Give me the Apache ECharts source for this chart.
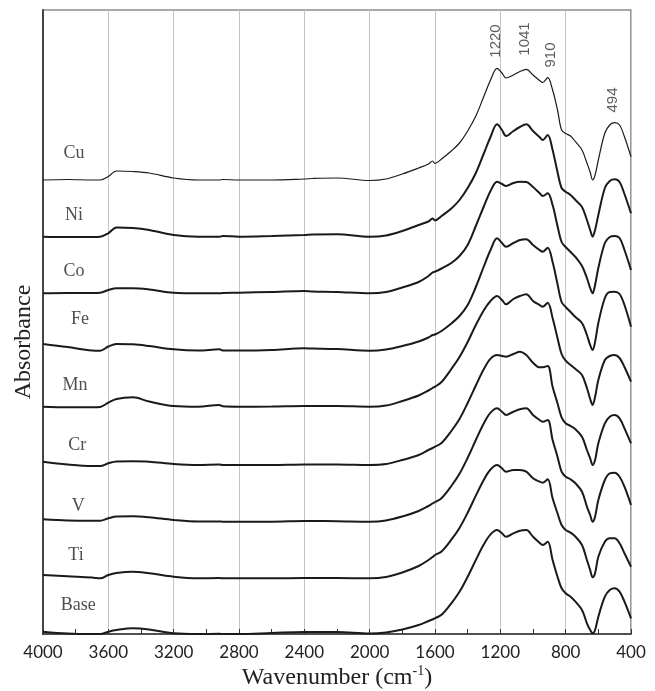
<!DOCTYPE html>
<html>
<head>
<meta charset="utf-8">
<script src="https://cdn.jsdelivr.net/npm/echarts@6/dist/echarts.min.js"></script>
<style>html,body{margin:0;padding:0;background:#fff}#c{width:655px;height:691px}</style>
</head>
<body>
<div id="c"></div>
<script>
const wavenumbers = [4000,3850,3700,3650,3600,3550,3450,3350,3200,3050,2920,2900,2800,2600,2400,2350,2200,2000,1900,1800,1700,1640,1615,1600,1560,1500,1450,1400,1350,1300,1260,1220,1190,1165,1120,1080,1041,1000,960,940,910,880,850,825,800,770,740,700,670,650,635,620,600,560,530,500,470,440,400];
const xTicks = [4000,3600,3200,2800,2400,2000,1600,1200,800,400];
const seriesNames = ['Cu','Ni','Co','Fe','Mn','Cr','V','Ti','Base'];
const cu = [4.54,4.545,4.54,4.54,4.575,4.63,4.625,4.61,4.56,4.54,4.54,4.545,4.54,4.54,4.55,4.555,4.56,4.535,4.55,4.60,4.66,4.70,4.73,4.705,4.75,4.83,4.91,5.03,5.18,5.38,5.54,5.657,5.61,5.56,5.59,5.625,5.647,5.59,5.535,5.515,5.563,5.44,5.24,5.04,5.005,4.98,4.923,4.84,4.71,4.62,4.54,4.59,4.74,5.01,5.09,5.113,5.09,4.973,4.773];
const ni = [3.973,3.97,3.97,3.973,4.007,4.065,4.06,4.04,3.99,3.973,3.973,3.98,3.973,3.98,3.99,3.995,3.997,3.973,3.985,4.03,4.09,4.125,4.155,4.135,4.18,4.255,4.34,4.46,4.61,4.81,4.97,5.097,5.04,4.98,5.03,5.07,5.097,5.03,4.97,4.94,4.99,4.84,4.62,4.46,4.423,4.39,4.34,4.27,4.14,4.04,3.973,4.04,4.19,4.46,4.53,4.547,4.52,4.40,4.207];
const co = [3.407,3.41,3.41,3.413,3.44,3.457,3.457,3.445,3.413,3.407,3.407,3.41,3.413,3.42,3.43,3.425,3.42,3.407,3.42,3.465,3.52,3.58,3.615,3.623,3.655,3.71,3.78,3.89,4.08,4.28,4.43,4.523,4.50,4.48,4.51,4.523,4.52,4.47,4.41,4.38,4.407,4.29,4.08,3.92,3.87,3.82,3.77,3.68,3.56,3.46,3.407,3.49,3.66,3.91,3.97,3.98,3.96,3.84,3.64];
const fe = [2.90,2.87,2.835,2.833,2.875,2.90,2.897,2.88,2.847,2.835,2.847,2.835,2.835,2.84,2.857,2.855,2.85,2.833,2.845,2.88,2.925,2.965,2.99,2.995,3.03,3.105,3.18,3.29,3.47,3.68,3.84,3.957,3.91,3.873,3.91,3.94,3.947,3.89,3.84,3.823,3.863,3.72,3.50,3.32,3.27,3.22,3.17,3.11,2.99,2.89,2.84,2.92,3.11,3.36,3.42,3.423,3.40,3.29,3.073];
const mn = [2.273,2.267,2.267,2.27,2.313,2.35,2.367,2.325,2.28,2.273,2.29,2.277,2.273,2.275,2.28,2.28,2.28,2.273,2.285,2.33,2.385,2.435,2.46,2.473,2.52,2.65,2.77,2.92,3.09,3.24,3.33,3.38,3.34,3.297,3.35,3.38,3.397,3.33,3.29,3.273,3.313,3.16,2.96,2.80,2.733,2.69,2.65,2.59,2.46,2.35,2.29,2.37,2.54,2.74,2.78,2.79,2.76,2.67,2.523];
const cr = [1.723,1.695,1.68,1.68,1.707,1.725,1.727,1.723,1.70,1.69,1.695,1.69,1.69,1.69,1.695,1.695,1.695,1.69,1.70,1.74,1.79,1.84,1.86,1.873,1.91,2.03,2.15,2.31,2.485,2.652,2.754,2.79,2.78,2.773,2.80,2.823,2.79,2.713,2.667,2.667,2.68,2.473,2.307,2.167,2.107,2.08,2.047,1.973,1.84,1.757,1.69,1.74,1.907,2.107,2.173,2.19,2.157,2.057,1.907];
const v = [1.147,1.135,1.133,1.133,1.157,1.175,1.177,1.167,1.14,1.125,1.125,1.123,1.123,1.123,1.13,1.13,1.128,1.123,1.135,1.175,1.23,1.28,1.305,1.32,1.358,1.48,1.602,1.762,1.94,2.11,2.213,2.257,2.223,2.19,2.223,2.247,2.257,2.19,2.14,2.123,2.14,1.94,1.773,1.623,1.573,1.547,1.507,1.423,1.273,1.19,1.123,1.173,1.34,1.54,1.607,1.613,1.573,1.473,1.29];
const ti = [0.59,0.577,0.565,0.557,0.59,0.61,0.623,0.607,0.573,0.557,0.56,0.557,0.557,0.557,0.56,0.56,0.56,0.557,0.57,0.615,0.68,0.74,0.77,0.79,0.826,0.943,1.06,1.213,1.384,1.546,1.645,1.69,1.657,1.623,1.64,1.64,1.623,1.557,1.523,1.513,1.547,1.357,1.207,1.09,1.04,1.013,0.973,0.89,0.74,0.64,0.567,0.607,0.773,0.923,0.957,0.957,0.907,0.807,0.673];
const base = [0.023,0.005,0,0,0.023,0.04,0.057,0.045,0.007,0,0.002,0,0,0.01,0.02,0.02,0.02,0.005,0.015,0.045,0.09,0.13,0.145,0.157,0.192,0.307,0.422,0.572,0.74,0.899,0.996,1.04,1.007,0.973,1.007,1.033,1.04,0.973,0.913,0.89,0.923,0.74,0.573,0.457,0.407,0.373,0.323,0.24,0.107,0.04,0.007,0.04,0.173,0.373,0.44,0.457,0.423,0.323,0.157];
const peakLabels = ['1220','1041','910','494'];

// label anchor positions (wavenumber, absorbance)
const nameLabelAt = [[3810,4.807],[3810,4.19],[3810,3.623],[3773,3.15],[3804,2.483],[3790,1.89],[3784,1.273],[3798,0.79],[3784,0.29]];
const peakLabelAt = [[1227,5.93],[1049,5.95],[890,5.79],[510,5.34]];

const allSeries = [cu, ni, co, fe, mn, cr, v, ti, base];

const chart = echarts.init(document.getElementById('c'), null, {renderer:'canvas'});
const lineSeries = allSeries.map((arr, k) => ({
  name: seriesNames[k],
  type: 'line',
  data: wavenumbers.map((w, i) => [w, arr[i]]),
  showSymbol: false,
  smooth: 0.35,
  silent: true,
  lineStyle: { color: '#1a1a1a', width: k === 0 ? 1.2 : 2 },
  z: 3
}));

const option = {
  animation: false,
  backgroundColor: '#fff',
  grid: { left: 43, right: 24, top: 10, bottom: 57, show: true, borderColor: '#555', borderWidth: 1.2 },
  xAxis: {
    type: 'value', min: 400, max: 4000, interval: 400, inverse: true,
    axisLine: { show: true, onZero: false, lineStyle: { color: '#333', width: 1.5 } },
    axisTick: { show: true, inside: true, length: 5, lineStyle: { color: '#333', width: 1 } },
    minorTick: { show: true, splitNumber: 2, length: 5, lineStyle: { color: '#333', width: 1 } },
    axisLabel: { show: true, color: '#222', fontFamily: 'Lato', fontSize: 17, margin: 10, showMinLabel: true, showMaxLabel: true,
      formatter: val => xTicks.includes(val) ? String(val) : '' },
    splitLine: { show: true, lineStyle: { color: '#c4c4c4', width: 1 } }
  },
  yAxis: {
    type: 'value', min: 0, max: 6.24,
    axisLine: { show: true, lineStyle: { color: '#444', width: 2 } },
    axisTick: { show: false }, axisLabel: { show: false }, splitLine: { show: false }
  },
  series: lineSeries.concat([
    {
      type: 'scatter', symbolSize: 0, silent: true, z: 5,
      data: nameLabelAt.map((p, i) => [p[0], p[1], seriesNames[i]]),
      label: { show: true, position: 'inside', formatter: p => p.data[2], fontFamily: 'Liberation Serif', fontSize: 18, color: '#222' }
    },
    {
      type: 'scatter', symbolSize: 0, silent: true, z: 5,
      data: peakLabelAt.map((p, i) => [p[0], p[1], peakLabels[i]]),
      label: { show: true, position: 'inside', rotate: 90, formatter: p => p.data[2], fontFamily: 'Liberation Sans', fontSize: 15, color: '#333' }
    }
  ]),
  graphic: [
    { type: 'text', x: 24, y: 342, rotation: Math.PI / 2, z: 10,
      style: { text: 'Absorbance', fontFamily: 'Liberation Serif', fontSize: 24, fill: '#222', align: 'center', verticalAlign: 'middle' } },
    { type: 'text', x: 337, y: 678, z: 10,
      style: { text: '{a|Wavenumber (cm}{s|-1}{a|)}', align: 'center', verticalAlign: 'middle', fill: '#222',
        rich: { a: { fontFamily: 'Liberation Serif', fontSize: 24, fill: '#222', lineHeight: 28 },
                s: { fontFamily: 'Liberation Serif', fontSize: 14, fill: '#222', verticalAlign: 'top', lineHeight: 28, padding: [0, 0, 6, 0] } } } }
  ]
};
chart.setOption(option);
</script>
</body>
</html>
